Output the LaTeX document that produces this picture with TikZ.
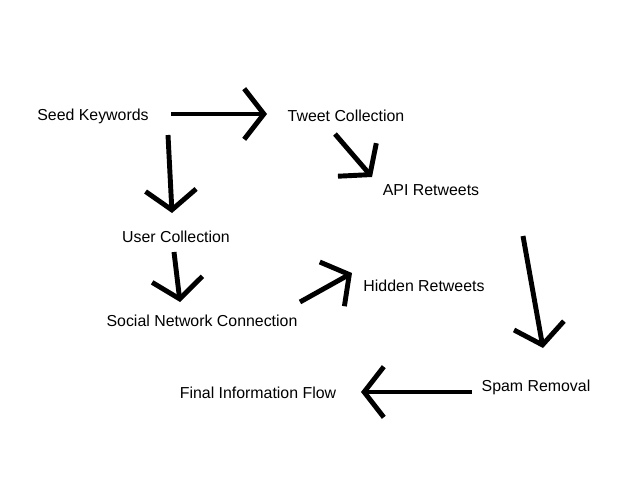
\documentclass[tikz,border=0pt]{standalone}
\usepackage{fontspec}
\setmainfont{Liberation Sans}
\usepackage{tikz}
\usetikzlibrary{arrows.meta}

\begin{document}
\begin{tikzpicture}[
  x=0.025cm,y=-0.025cm,
  stagelabel/.style={inner sep=0pt,font=\fontsize{11.3}{13.6}\selectfont},
  arr/.style={-{Straight Barb[sharp,length=14pt,width=36pt]},line width=3.5pt,color=black}]
  \useasboundingbox (0,0) rectangle (640,480);
  \node[stagelabel] (seed) at (93,116) {Seed Keywords};
  \node[stagelabel] (tweet) at (346,116) {Tweet Collection};
  \node[stagelabel] (api) at (431,190) {API Retweets};
  \node[stagelabel] (user) at (176,237) {User Collection};
  \node[stagelabel] (social) at (202,321) {Social Network Connection};
  \node[stagelabel] (hidden) at (424,286) {Hidden Retweets};
  \node[stagelabel] (spam) at (536,387) {Spam Removal};
  \node[stagelabel] (final) at (258,393) {Final Information Flow};
  \draw[arr] ([shift={(78,-2)}]seed.center)--([shift={(-79,-2)}]tweet.center);
  \draw[arr] ([shift={(75,19)}]seed.center)--([shift={(-4,-24)}]user.center);
  \draw[arr] ([shift={(-11,18)}]tweet.center)--([shift={(-59,-13)}]api.center);
  \draw[arr] ([shift={(-2,15)}]user.center)--([shift={(-22,-19)}]social.center);
  \draw[arr] ([shift={(98,-19)}]social.center)--([shift={(-72,-13)}]hidden.center);
  \draw[arr] ([shift={(92,46)}]api.center)--([shift={(7,-39)}]spam.center);
  \draw[arr] ([shift={(-64,5)}]spam.center)--([shift={(103,-1)}]final.center);
\end{tikzpicture}
\end{document}
